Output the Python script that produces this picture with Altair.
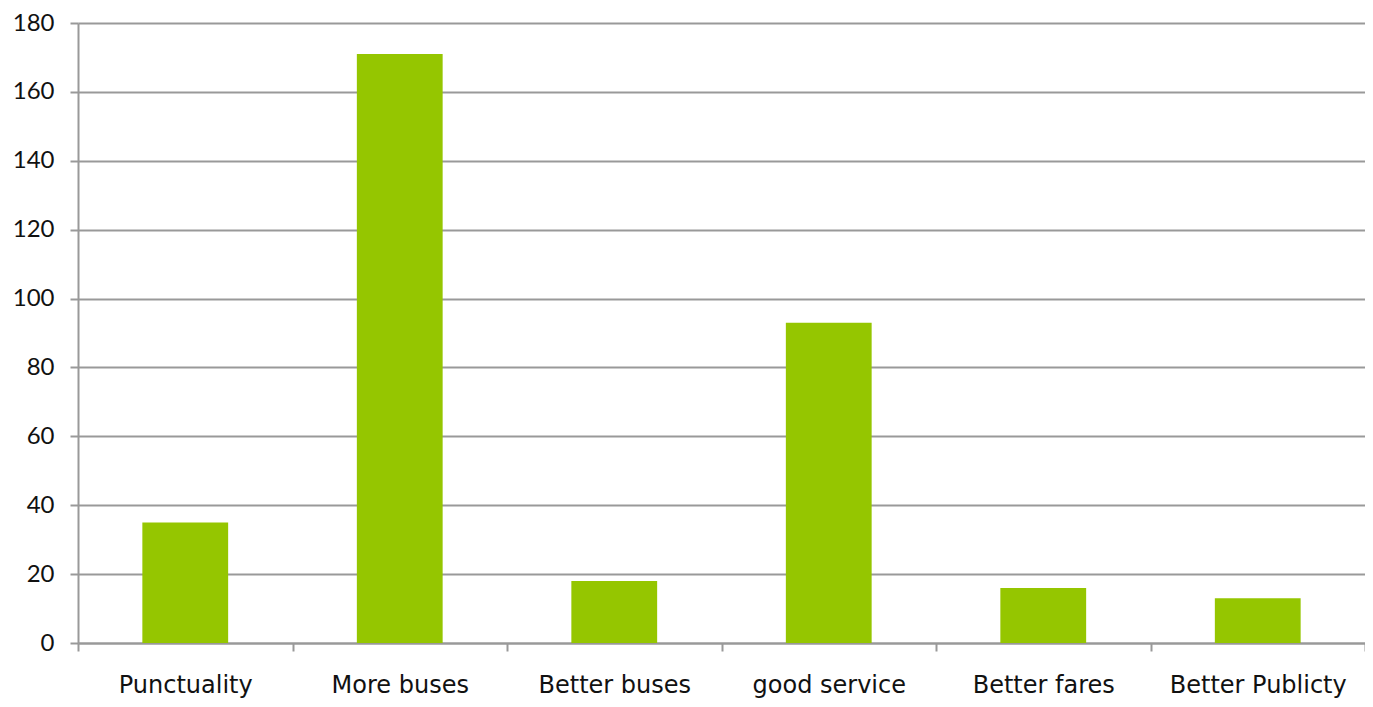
import altair as alt
import pandas as pd

categories = ["Punctuality", "More buses", "Better buses", "good service", "Better fares", "Better Publicty"]
values = [35, 171, 18, 93, 16, 13]

df = pd.DataFrame({"category": categories, "value": values})

chart = alt.Chart(df).mark_bar(color="#95C600", width=alt.RelativeBandSize(0.4)).encode(
    x=alt.X("category:N", sort=categories, title=None,
            scale=alt.Scale(paddingInner=0, paddingOuter=0),
            axis=alt.Axis(labelAngle=0, labelFontSize=24, labelFont="DejaVu Sans", labelColor="#111",
                          labelPadding=22, tickBand="extent", tickSize=8, tickColor="#999",
                          domainColor="#999", tickWidth=2, domainWidth=2, grid=False)),
    y=alt.Y("value:Q", title=None,
            scale=alt.Scale(domain=[0, 180], nice=False),
            axis=alt.Axis(values=list(range(0, 181, 20)), labelFontSize=24, labelFont="Lato",
                          labelColor="#111", labelPadding=16, tickSize=8, tickColor="#999",
                          domainColor="#999", tickWidth=2, domainWidth=2,
                          gridColor="#999", gridWidth=2)),
).properties(
    width=1287, height=620,
    autosize=alt.AutoSizeParams(type="none"),
    padding={"left": 70, "top": 15, "right": 0, "bottom": 55},
).configure_view(stroke=None)

chart.save("out.html", embed_options={"renderer": "svg", "actions": False})
